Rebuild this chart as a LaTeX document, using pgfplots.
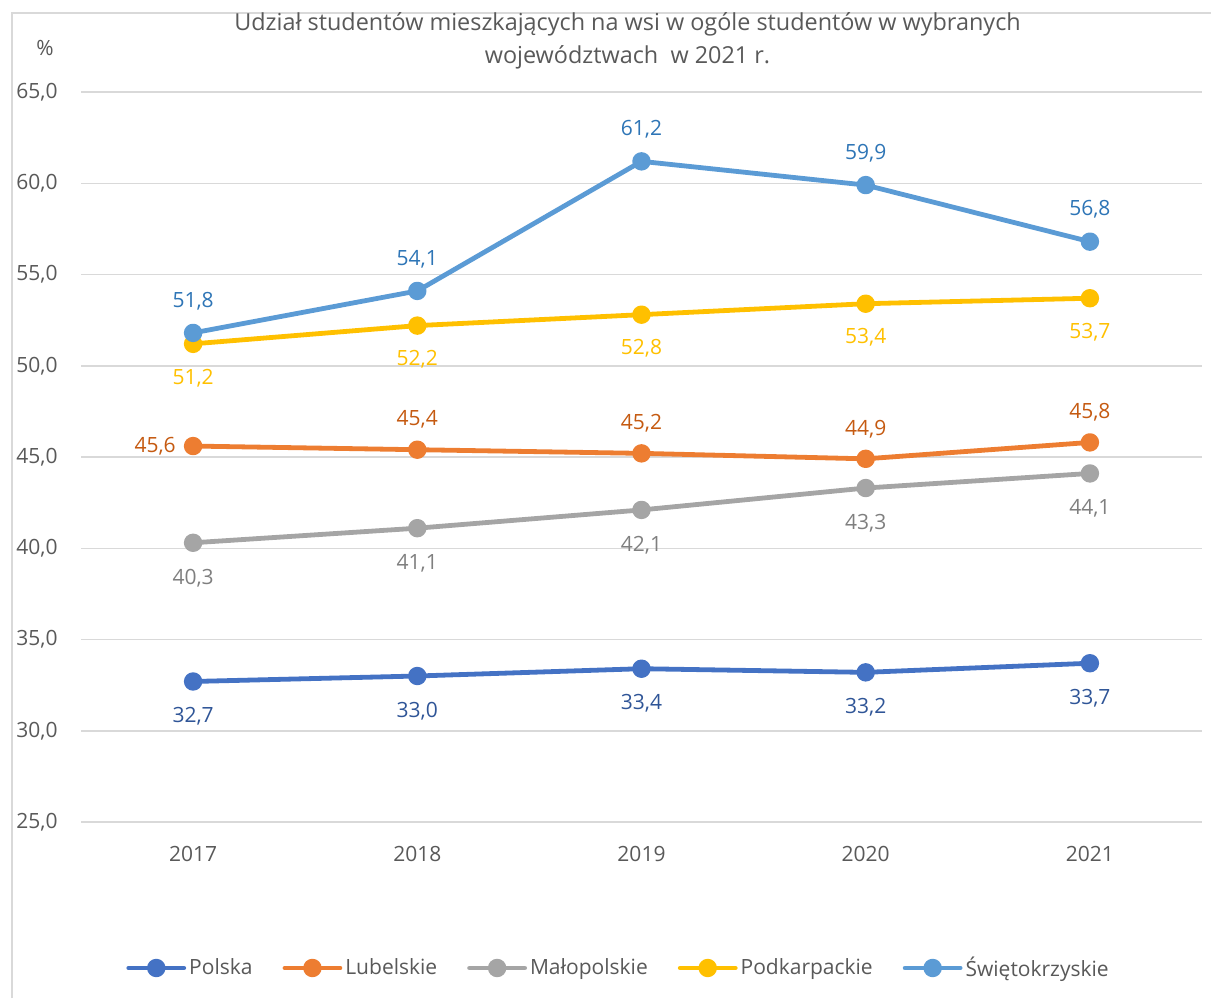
\documentclass[border=0pt]{standalone}
\usepackage{fontspec}
\setmainfont{Open Sans}
\usepackage{pgfplots}
\pgfplotsset{compat=1.18}
\definecolor{gridc}{HTML}{D9D9D9}
\definecolor{textc}{HTML}{595959}
\definecolor{cPol}{HTML}{4472C4}
\definecolor{lPol}{HTML}{2F5597}
\definecolor{cLub}{HTML}{ED7D31}
\definecolor{lLub}{HTML}{C55A11}
\definecolor{cMal}{HTML}{A5A5A5}
\definecolor{lMal}{HTML}{7F7F7F}
\definecolor{cPod}{HTML}{FFC000}
\definecolor{lPod}{HTML}{FFC000}
\definecolor{cSwi}{HTML}{5B9BD5}
\definecolor{lSwi}{HTML}{2E75B6}
\pgfkeys{/pgf/number format/.cd, fixed, fixed zerofill, precision=1, use comma, assume math mode=true}
\newcommand{\lblfont}{\fontsize{10.5}{12}\selectfont}
\begin{document}
\begin{tikzpicture}
\useasboundingbox (0,0) rectangle (605.5pt,499pt);
\draw[color=gridc, line width=0.75pt] (6pt,0) -- (6pt,492.5pt) -- (605.5pt,492.5pt);
\begin{axis}[
  at={(40.5pt,88pt)}, anchor=south west, scale only axis,
  width=560.5pt, height=365pt,
  xmin=-0.5, xmax=4.5, ymin=25, ymax=65,
  xtick={0,1,2,3,4}, xticklabels={2017,2018,2019,2020,2021},
  ytick={25,30,35,40,45,50,55,60,65},
  axis line style={draw=none},
  major tick length=0pt,
  ymajorgrids, grid style={gridc, line width=0.75pt},
  tick label style={font=\lblfont, text=textc},
  xticklabel style={anchor=north, inner sep=0pt, yshift=-11.75pt},
  yticklabel style={anchor=east, inner sep=0pt, xshift=-11.5pt},
  clip=false,
  title={Udział studentów mieszkających na wsi w ogóle studentów w wybranych\\województwach\ \ w 2021 r.},
  title style={align=center, font=\fontsize{11.7}{16.5}\selectfont, text=textc, at={(0.4875,1)}, anchor=south, inner sep=0pt, yshift=5pt},
  legend columns=5,
  legend style={at={(0.48,-0.2)}, anchor=center, draw=none, font=\lblfont, text=textc,
    nodes={inner sep=1.5pt},
    /tikz/every even column/.append style={column sep=13.5pt}},
  legend image code/.code={\draw[#1, mark repeat=2, mark phase=2] plot coordinates {(0pt,0pt) (13.75pt,0pt) (27.5pt,0pt)};},
  every axis plot/.append style={line width=2.4pt, mark=*, mark size=3.4pt, line join=round, line cap=round},
  nodes near coords,
  every node near coord/.append style={font=\lblfont, anchor=center},
]
\addplot[color=cPol, every node near coord/.append style={text=lPol, yshift=-17.5pt}]
  coordinates {(0,32.7) (1,33.0) (2,33.4) (3,33.2) (4,33.7)};
\addlegendentry{Polska}
\addplot[color=cLub, every node near coord/.append style={text=lLub, yshift=15pt},
  coordinate style/.condition={x==0}{xshift=-19pt, yshift=-15pt}]
  coordinates {(0,45.6) (1,45.4) (2,45.2) (3,44.9) (4,45.8)};
\addlegendentry{Lubelskie}
\addplot[color=cMal, every node near coord/.append style={text=lMal, yshift=-17.5pt}]
  coordinates {(0,40.3) (1,41.1) (2,42.1) (3,43.3) (4,44.1)};
\addlegendentry{Małopolskie}
\addplot[color=cPod, every node near coord/.append style={text=lPod, yshift=-17pt}]
  coordinates {(0,51.2) (1,52.2) (2,52.8) (3,53.4) (4,53.7)};
\addlegendentry{Podkarpackie}
\addplot[color=cSwi, every node near coord/.append style={text=lSwi, yshift=16pt}]
  coordinates {(0,51.8) (1,54.1) (2,61.2) (3,59.9) (4,56.8)};
\addlegendentry{Świętokrzyskie}
\node[font=\lblfont, text=textc, xshift=-18pt, yshift=22pt] at (axis description cs:0,1) {\%};
\end{axis}
\end{tikzpicture}
\end{document}
